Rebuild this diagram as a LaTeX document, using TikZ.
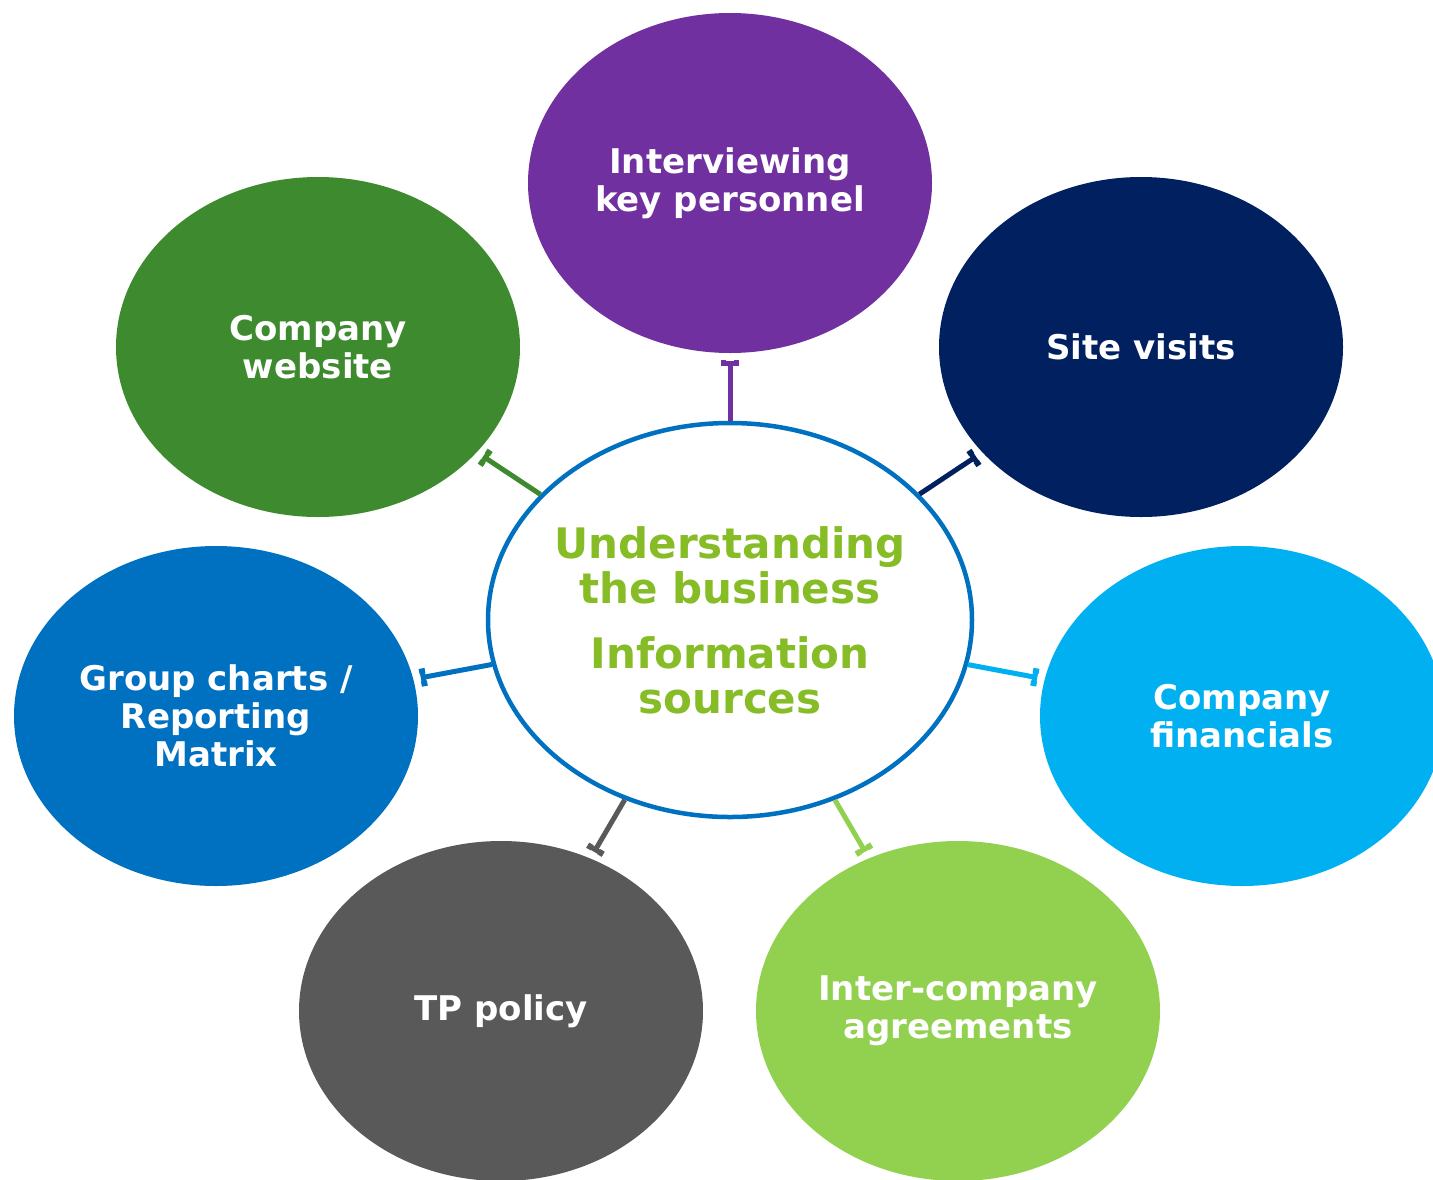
\documentclass[tikz,border=0pt]{standalone}
\usepackage{fontspec}
\setmainfont{DejaVu Sans}
\usetikzlibrary{shapes.geometric, arrows.meta}
\definecolor{purp}{RGB}{112,48,160}
\definecolor{leaf}{RGB}{62,138,47}
\definecolor{navy}{RGB}{0,32,96}
\definecolor{corp}{RGB}{0,112,192}
\definecolor{sky}{RGB}{0,176,240}
\definecolor{slate}{RGB}{89,89,89}
\definecolor{lime}{RGB}{146,208,80}
\definecolor{title}{RGB}{134,188,37}

\begin{document}
\begin{tikzpicture}[x=1pt, y=-1pt,
	bubble/.style={ellipse, minimum width=404pt, minimum height=340pt, inner sep=0pt,
		text=white, align=center, font=\fontsize{34}{38}\selectfont\bfseries},
	spoke/.style={line width=5pt, -{Tee Barb[width=18pt,length=6pt]}, shorten >=7pt}]
			\useasboundingbox (0,0) rectangle (1433,1179);

			\node[ellipse, draw=corp, fill=white, line width=4.5pt, minimum width=484pt, minimum height=394pt,
				inner sep=-6pt, text=title, align=center, font=\fontsize{42}{45}\selectfont\bfseries]  (hub)  at (730,620)
				{Understanding\\the business\\[20pt]Information\\sources};

			\node[bubble, fill=purp]   (interview)  at (730,183)   {Interviewing\\key personnel};
			\node[bubble, fill=leaf]   (website)    at (318,347)   {Company\\website};
			\node[bubble, fill=navy]   (site)       at (1141,347)  {Site visits};
			\node[bubble, fill=corp]   (charts)     at (216,716)   {Group charts /\\Reporting\\Matrix};
			\node[bubble, fill=sky]    (financials) at (1242,716)  {Company\\financials};
			\node[bubble, fill=slate]  (policy)     at (501,1011)  {TP policy};
			\node[bubble, fill=lime]   (agreements) at (958,1011)  {Inter-company\\agreements};

			\draw[spoke, purp]  (hub) -- (interview) ;
			\draw[spoke, leaf]  (hub) -- (website) ;
			\draw[spoke, navy]  (hub) -- (site) ;
			\draw[spoke, corp]  (hub) -- (charts) ;
			\draw[spoke, sky]   (hub) -- (financials) ;
			\draw[spoke, slate] (hub) -- (policy) ;
			\draw[spoke, lime]  (hub) -- (agreements) ;
		\end{tikzpicture}
\end{document}
